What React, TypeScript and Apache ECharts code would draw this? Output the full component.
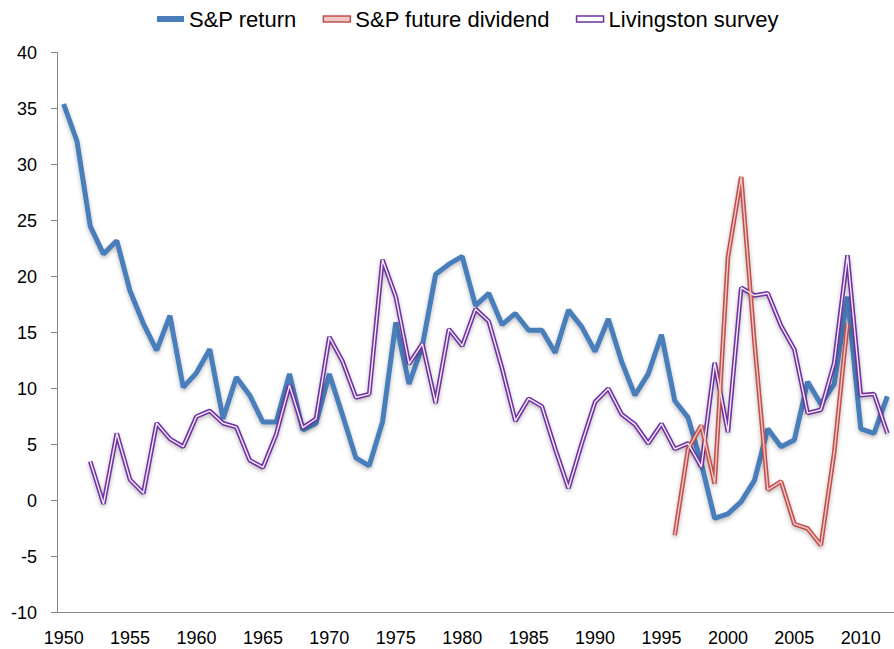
import React, { useEffect, useRef } from "react";
import * as echarts from "echarts";

const years: string[] = [];
for (let y = 1950; y <= 2012; y++) years.push(String(y));

// S&P return, 1950-2012
const spReturn = [
  35.4, 32.1, 24.5, 22.0, 23.2, 18.7, 15.8, 13.4, 16.5, 10.1,
  11.4, 13.5, 7.3, 11.0, 9.4, 7.0, 7.0, 11.3, 6.3, 6.9,
  11.3, 7.6, 3.8, 3.1, 7.0, 15.9, 10.4, 13.8, 20.2, 21.1,
  21.8, 17.4, 18.5, 15.7, 16.7, 15.2, 15.2, 13.2, 17.0, 15.5,
  13.3, 16.2, 12.4, 9.4, 11.3, 14.8, 8.9, 7.4, 3.3, -1.6,
  -1.2, -0.1, 1.8, 6.4, 4.8, 5.4, 10.6, 8.6, 10.4, 18.2,
  6.4, 6.0, 9.3,
];

// S&P future dividend, 1950-2012 (data 1996-2009)
const spDividend: (number | null)[] = [
  null, null, null, null, null, null, null, null, null, null,
  null, null, null, null, null, null, null, null, null, null,
  null, null, null, null, null, null, null, null, null, null,
  null, null, null, null, null, null, null, null, null, null,
  null, null, null, null, null, null, -3.1, 4.6, 6.7, 1.5,
  21.7, 28.9, 14.1, 0.95, 1.7, -2.1, -2.5, -4.0, 4.3, 15.8,
  null, null, null,
];

// Livingston survey, 1950-2012 (data from 1952)
const livingston: (number | null)[] = [
  null, null, 3.5, -0.3, 6.0, 1.85, 0.65, 6.9, 5.5, 4.8,
  7.5, 8.0, 6.9, 6.55, 3.6, 2.95, 5.9, 10.3, 6.5, 7.3,
  14.6, 12.4, 9.2, 9.5, 21.5, 18.2, 12.2, 14.0, 8.7, 15.3,
  13.8, 17.1, 16.0, 11.8, 7.1, 9.1, 8.4, 4.6, 1.1, 5.1,
  8.8, 10.0, 7.7, 6.8, 5.1, 6.85, 4.6, 5.1, 3.0, 12.3,
  6.1, 19.0, 18.3, 18.5, 15.6, 13.5, 7.8, 8.1, 12.3, 21.9,
  9.4, 9.5, 6.0,
];

const BLUE = "#4a7ebb";
const RED = "#c0504d";
const RED_IN = "#efc7c6";
const PURPLE = "#7030a0";
const PURPLE_IN = "#f3ecfa";
const FONT = "Liberation Sans";

export default function App() {
  const ref = useRef<HTMLDivElement>(null);
  useEffect(() => {
    if (!ref.current) return;
    const chart = echarts.init(ref.current, null, { renderer: "svg" });
    const shadow = {
      shadowColor: "rgba(0,0,0,0.28)",
      shadowBlur: 4,
      shadowOffsetY: 2,
    };
    chart.setOption({
      animation: false,
      backgroundColor: "#fff",
      textStyle: { fontFamily: FONT },
      legend: {
        left: 152,
        top: 3,
        itemWidth: 27,
        itemHeight: 6,
        itemGap: 26,
        textStyle: { fontFamily: FONT, fontSize: 22, color: "#000" },
        data: [
          { name: "S&P return", icon: "rect", itemStyle: { color: BLUE, borderWidth: 0 } },
          {
            name: "S&P future dividend",
            icon: "rect",
            itemStyle: { color: RED_IN, borderColor: RED, borderWidth: 1.5 },
          },
          {
            name: "Livingston survey",
            icon: "rect",
            itemStyle: { color: "#fff", borderColor: PURPLE, borderWidth: 1.5 },
          },
        ],
      },
      grid: { left: 57, top: 52.5, bottom: 36.5, width: 840 },
      xAxis: {
        type: "category",
        data: years,
        boundaryGap: true,
        axisLine: { onZero: false, lineStyle: { color: "#868686", width: 1 } },
        axisTick: { interval: 0, length: 5, lineStyle: { color: "#868686" } },
        axisLabel: {
          interval: 4,
          fontFamily: FONT,
          fontSize: 18,
          color: "#000",
          margin: 16,
        },
        splitLine: { show: false },
      },
      yAxis: {
        type: "value",
        min: -10,
        max: 40,
        interval: 5,
        axisLine: { show: true, lineStyle: { color: "#868686", width: 1 } },
        axisTick: { show: true, length: 6, lineStyle: { color: "#868686" } },
        axisLabel: { fontFamily: FONT, fontSize: 18, color: "#000", margin: 20 },
        splitLine: { show: false },
      },
      series: [
        {
          name: "Livingston survey",
          type: "line",
          data: livingston,
          showSymbol: false,
          z: 2,
          lineStyle: { color: PURPLE, width: 4.5, ...shadow },
          itemStyle: { color: PURPLE },
        },
        {
          name: "Livingston survey",
          type: "line",
          data: livingston,
          showSymbol: false,
          z: 3,
          lineStyle: { color: PURPLE_IN, width: 1.4 },
          itemStyle: { color: PURPLE },
        },
        {
          name: "S&P future dividend",
          type: "line",
          data: spDividend,
          showSymbol: false,
          z: 2,
          lineStyle: { color: RED, width: 4.5, ...shadow },
          itemStyle: { color: RED },
        },
        {
          name: "S&P future dividend",
          type: "line",
          data: spDividend,
          showSymbol: false,
          z: 3,
          lineStyle: { color: RED_IN, width: 1.4 },
          itemStyle: { color: RED },
        },
        {
          name: "S&P return",
          type: "line",
          data: spReturn,
          showSymbol: false,
          z: 1,
          lineStyle: { color: BLUE, width: 5, ...shadow },
          itemStyle: { color: BLUE },
        },
      ],
    });
    return () => chart.dispose();
  }, []);
  return (
    <div
      ref={ref}
      style={{ position: "fixed", left: 0, top: 0, width: 894, height: 649 }}
    />
  );
}
